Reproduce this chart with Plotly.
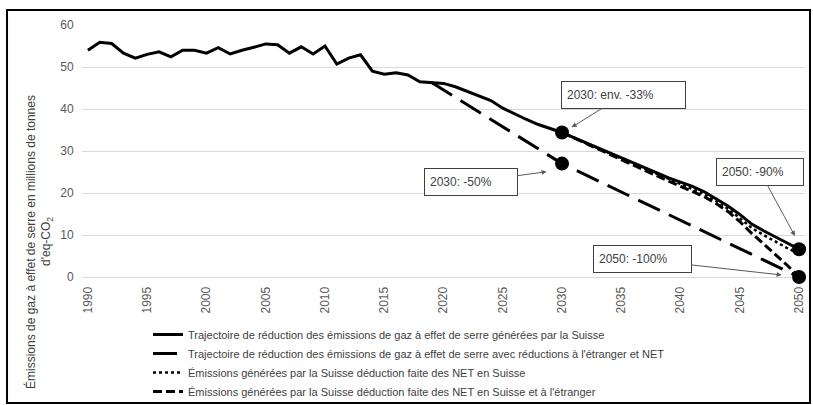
import plotly.graph_objects as go

# ---------------- data ----------------
solid_values = [
    54.0, 55.9, 55.6, 53.3, 52.1, 53.0, 53.6, 52.4, 54.0, 54.0,   # 1990-1999
    53.3, 54.6, 53.1, 54.0, 54.7, 55.5, 55.3, 53.3, 54.8, 53.1,   # 2000-2009
    55.0, 50.7, 52.1, 52.9, 49.0, 48.3, 48.6, 48.1, 46.5, 46.3,   # 2010-2019
    46.1, 45.3, 44.2, 43.2, 42.0, 40.2, 38.8, 37.5, 36.3, 35.3,   # 2020-2029
    34.4, 33.2, 32.0, 30.8, 29.6, 28.4, 27.2, 26.0, 24.8, 23.6,   # 2030-2039
    22.6, 21.6, 20.3, 18.7, 16.9, 14.9, 12.6, 11.0, 9.6, 8.1,     # 2040-2049
    6.6,                                                          # 2050
]
years_all = list(range(1990, 2051))

longdash_years = [2019, 2030, 2050]
longdash_values = [46.3, 27.0, 0.0]

years_future = list(range(2030, 2051))
dotted_values = [34.4, 33.2, 32.0, 30.8, 29.5, 28.2, 27.0, 25.7, 24.5, 23.3,
                 22.2, 21.0, 19.7, 18.1, 16.2, 14.0, 11.7, 10.0, 8.4, 6.9, 5.5]
shortdash_values = [34.4, 33.1, 31.8, 30.5, 29.2, 27.9, 26.6, 25.3, 24.0, 22.8,
                    21.6, 20.4, 19.1, 17.5, 15.6, 13.2, 10.4, 7.9, 5.4, 2.8, 0.0]

series_names = [
    "Trajectoire de réduction des émissions de gaz à effet de serre générées par la Suisse",
    "Trajectoire de réduction des émissions de gaz à effet de serre avec réductions à l'étranger et NET",
    "Émissions générées par la Suisse déduction faite des NET en Suisse",
    "Émissions générées par la Suisse déduction faite des NET en Suisse et à l'étranger",
]
xtick_vals = list(range(1990, 2051, 5))
ytick_vals = [0, 10, 20, 30, 40, 50, 60]
annotation_texts = ["2030: env. -33%", "2030: -50%", "2050: -90%", "2050: -100%"]
ytitle_line1 = "Émissions de gaz à effet de serre en millions de tonnes"
ytitle_line2 = "d'eq-CO<sub>2</sub>"

FONT = "Liberation Sans, Arial, sans-serif"

fig = go.Figure()
fig.add_trace(go.Scatter(x=years_all, y=solid_values, mode="lines", name=series_names[0],
                         line=dict(color="black", width=3)))
fig.add_trace(go.Scatter(x=longdash_years, y=longdash_values, mode="lines", name=series_names[1],
                         line=dict(color="black", width=3, dash="24px,10px")))
fig.add_trace(go.Scatter(x=years_future, y=dotted_values, mode="lines", name=series_names[2],
                         line=dict(color="black", width=2.5, dash="3px,3px")))
fig.add_trace(go.Scatter(x=years_future, y=shortdash_values, mode="lines", name=series_names[3],
                         line=dict(color="black", width=3, dash="9px,4px")))

# highlighted points taken from the series
i2030 = years_all.index(2030)
i2050 = years_all.index(2050)
mk_x = [2030, longdash_years[1], 2050, longdash_years[2]]
mk_y = [solid_values[i2030], longdash_values[1], solid_values[i2050], longdash_values[2]]
fig.add_trace(go.Scatter(x=mk_x, y=mk_y, mode="markers", showlegend=False,
                         marker=dict(color="black", size=14), cliponaxis=False))

# annotation layout (text centre, arrow tip, box width)
ann_layout = [
    (2035.18, 43.33, 2030.81, 35.64, 113),
    (2022.32, 22.62, 2028.70, 25.07, 82),
    (2046.70, 25.12, 2049.65, 9.76, 76),
    (2036.79, 4.17, 2048.53, 0.48, 87),
]
annotations = []
for txt, (ax, ay, tx, ty, w) in zip(annotation_texts, ann_layout):
    annotations.append(dict(
        x=tx, y=ty, ax=ax, ay=ay, xref="x", yref="y", axref="x", ayref="y",
        text=txt, showarrow=True, arrowhead=2, arrowsize=1, arrowwidth=1,
        arrowcolor="#595959", font=dict(family=FONT, size=12, color="#404040"),
        bgcolor="white", bordercolor="#404040", borderwidth=1, borderpad=5,
        width=w, height=16, align="left", valign="middle"))

annotations.append(dict(x=-0.0705, y=0.139, xref="paper", yref="paper", text=ytitle_line1,
                        textangle=-90, showarrow=False, xanchor="center", yanchor="middle",
                        font=dict(family=FONT, size=12, color="#404040")))
annotations.append(dict(x=-0.0484, y=0.139, xref="paper", yref="paper", text=ytitle_line2,
                        textangle=-90, showarrow=False, xanchor="center", yanchor="middle",
                        font=dict(family=FONT, size=12, color="#404040")))

fig.update_layout(
    width=813, height=405,
    margin=dict(l=82, r=8, t=25, b=128, autoexpand=False),
    paper_bgcolor="white", plot_bgcolor="white",
    font=dict(family=FONT, size=12, color="#404040"),
    showlegend=True,
    legend=dict(x=0.0913, y=-0.1706, xanchor="left", yanchor="top",
                font=dict(family=FONT, size=11, color="#404040"),
                bgcolor="rgba(0,0,0,0)", tracegroupgap=0),
    annotations=annotations,
    shapes=[dict(type="rect", xref="paper", yref="paper",
                 x0=-0.1037, x1=1.0069, y0=-0.500, y1=1.0595,
                 line=dict(color="black", width=2), fillcolor="rgba(0,0,0,0)", layer="above")],
)
fig.update_xaxes(range=[1989.5, 2050.5], tickmode="array", tickvals=xtick_vals,
                 ticktext=[str(v) for v in xtick_vals], tickangle=-90,
                 showgrid=False, zeroline=False, showline=False, automargin=False,
                 ticks="outside", ticklen=4, tickcolor="rgba(0,0,0,0)",
                 tickfont=dict(family=FONT, size=12, color="#595959"))
fig.update_yaxes(range=[0, 60], tickmode="array", tickvals=ytick_vals,
                 showgrid=True, gridcolor="#d9d9d9", gridwidth=1, automargin=False,
                 zeroline=True, zerolinecolor="#d9d9d9", zerolinewidth=1, showline=False,
                 ticks="outside", ticklen=5, tickcolor="rgba(0,0,0,0)",
                 tickfont=dict(family=FONT, size=12, color="#595959"))

fig.write_html("out.html", config={"displayModeBar": False},
               post_script="document.body.style.margin='0px';document.body.style.overflow='hidden';")
